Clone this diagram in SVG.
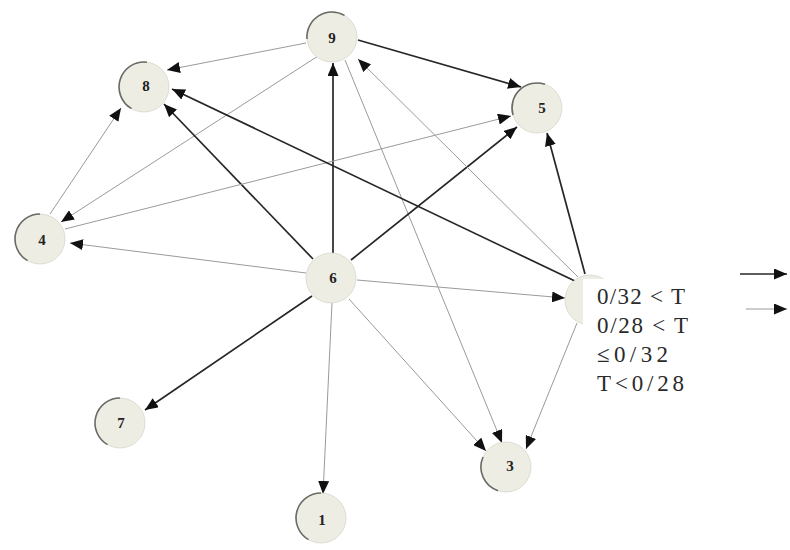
<svg xmlns="http://www.w3.org/2000/svg" width="790" height="550" viewBox="0 0 790 550">
<style>
.node{fill:#eeede3;stroke:#d6d5cc;stroke-width:0.8}
.rim{fill:none;stroke:#6a6a66;stroke-width:1.6}
.lbl{font-family:"Liberation Serif",serif;font-weight:bold;font-size:15px;fill:#222;text-anchor:middle}
.dark{stroke:#262626;stroke-width:1.7;fill:none;marker-end:url(#ah)}
.thin{stroke:#9a9a9a;stroke-width:1;fill:none;marker-end:url(#ah)}
.leg{font-family:"Liberation Serif",serif;font-size:23px;fill:#2a2a2a}
</style>
<defs>
<marker id="ah" markerUnits="userSpaceOnUse" markerWidth="14" markerHeight="11" refX="13" refY="5.5" orient="auto">
<path d="M0,0 L13,5.5 L0,11 z" fill="#111"/>
</marker>
</defs>
<rect width="790" height="550" fill="#fff"/>
<g id="connectors">
<line class="thin" x1="306" y1="43" x2="167" y2="70"/>
<line class="dark" x1="358" y1="40" x2="521" y2="87"/>
<line class="thin" x1="318" y1="56" x2="61" y2="222"/>
<line class="thin" x1="345" y1="60" x2="502" y2="443"/>
<line class="dark" x1="333" y1="253" x2="333" y2="63"/>
<line class="dark" x1="313" y1="259" x2="164" y2="104"/>
<line class="dark" x1="351" y1="260" x2="517" y2="127"/>
<line class="thin" x1="306" y1="273" x2="70" y2="243"/>
<line class="dark" x1="312" y1="296" x2="145" y2="410"/>
<line class="thin" x1="332" y1="303" x2="323" y2="494"/>
<line class="thin" x1="349" y1="299" x2="486" y2="451"/>
<line class="thin" x1="357" y1="280" x2="565" y2="298"/>
<line class="thin" x1="50" y1="214" x2="121" y2="108"/>
<line class="thin" x1="65" y1="229" x2="511" y2="116"/>
<line class="dark" x1="577" y1="282" x2="172" y2="89"/>
<line class="thin" x1="578" y1="277" x2="358" y2="59"/>
<line class="dark" x1="585" y1="274" x2="547" y2="133"/>
<line class="thin" x1="577" y1="323" x2="526" y2="449"/>
<line class="dark" x1="740" y1="274" x2="787" y2="274"/>
<line class="thin" x1="746" y1="309" x2="787" y2="309"/>
</g>
<g id="n9" transform="translate(332,37)"><circle class="node" r="25"/><path class="rim" d="M-25,2 A25,25 0 0 1 12.5,-21.65"/><text class="lbl" y="6">9</text></g>
<g id="n8" transform="translate(144,87)"><circle class="node" r="25"/><path class="rim" d="M-12.5,21.65 A25,25 0 0 1 3,-24.8"/><text class="lbl" x="2" y="4">8</text></g>
<g id="n5" transform="translate(537,108)"><circle class="node" r="25"/><path class="rim" d="M-24,7 A25,25 0 0 1 8,-23.7"/><text class="lbl" x="5" y="5">5</text></g>
<g id="n4" transform="translate(40,239)"><circle class="node" r="25"/><path class="rim" d="M-12.5,21.65 A25,25 0 0 1 0,-25"/><text class="lbl" x="2" y="6">4</text></g>
<g id="n6" transform="translate(331,278)"><circle class="node" r="25"/><text class="lbl" x="2" y="5">6</text></g>
<g id="n7" transform="translate(120,423)"><circle class="node" r="25"/><path class="rim" d="M-12.5,21.65 A25,25 0 0 1 0,-25"/><text class="lbl" x="1" y="5">7</text></g>
<g id="n3" transform="translate(506,467)"><circle class="node" r="25"/><path class="rim" d="M-8,23.7 A25,25 0 0 1 -23,-10"/><text class="lbl" x="4" y="4">3</text></g>
<g id="n1" transform="translate(321,518)"><circle class="node" r="25"/><path class="rim" d="M-12.5,21.65 A25,25 0 0 1 0,-25"/><text class="lbl" x="1" y="7">1</text></g>
<g id="nX" transform="translate(590,300)"><circle class="node" r="25"/></g>
<rect x="583" y="279" width="122" height="122" fill="#fff"/>
<g id="legend">
<text class="leg" x="597" y="304" textLength="88" lengthAdjust="spacing">0/32 &lt; T</text>
<text class="leg" x="597" y="333" textLength="91" lengthAdjust="spacing">0/28 &lt; T</text>
<text class="leg" x="597" y="362" textLength="71" lengthAdjust="spacing">≤0/32</text>
<text class="leg" x="597" y="391" textLength="87" lengthAdjust="spacing">T&lt;0/28</text>
</g>
</svg>
